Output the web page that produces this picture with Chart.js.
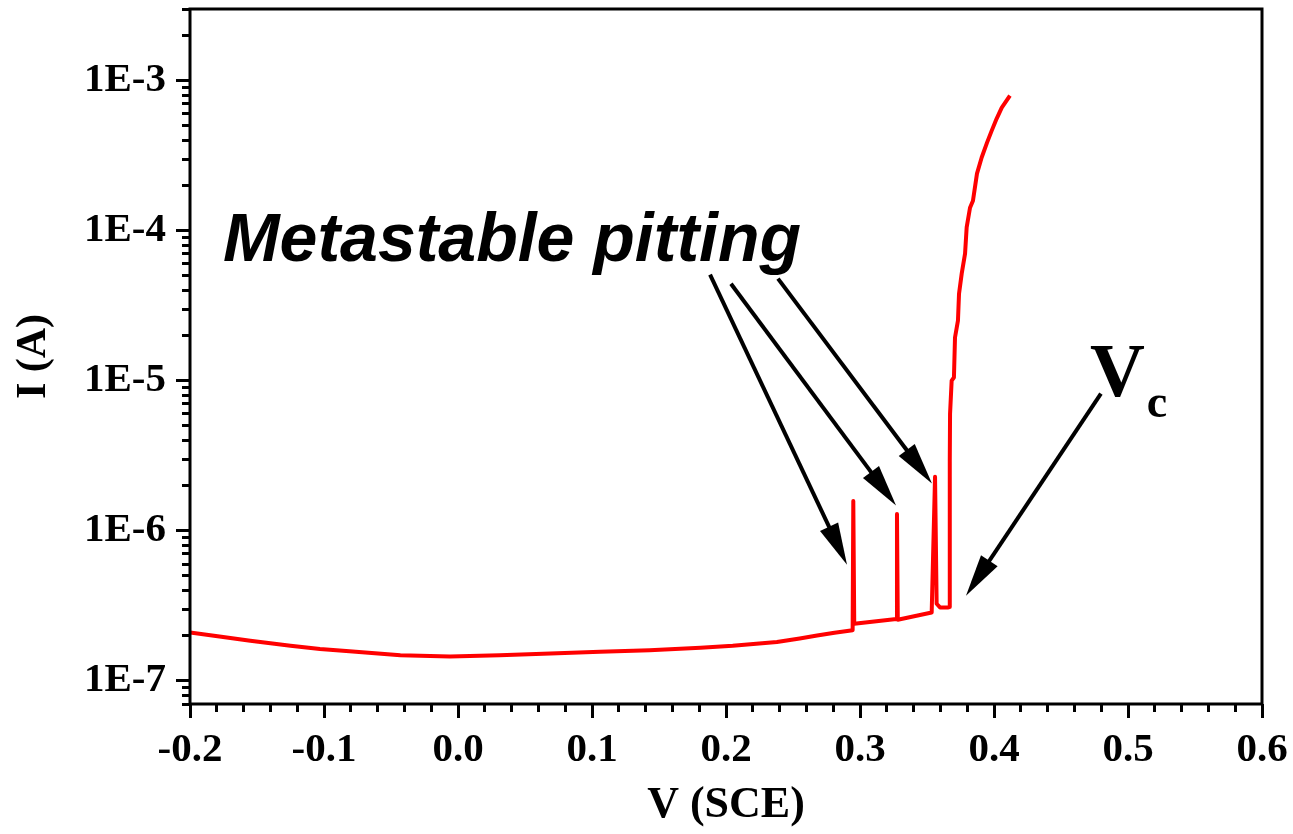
<!DOCTYPE html>
<html>
<head>
<meta charset="utf-8">
<script src="https://cdn.jsdelivr.net/npm/chart.js@4.4.1/dist/chart.umd.min.js"></script>
<style>
  html, body { margin: 0; padding: 0; background: #fff; }
  #wrap { width: 1293px; height: 834px; }
</style>
</head>
<body>
<div id="wrap"><canvas id="chart" width="1293" height="834"></canvas></div>
<script>
// polarisation curve, V vs SCE and current in A
const voltage = [
    -0.200, -0.178, -0.155, -0.125, -0.103, -0.081, -0.043, -0.006, 0.031, 0.069, 0.106,
    0.143, 0.181, 0.205, 0.238, 0.255, 0.268, 0.281,
    0.2945, 0.2950, 0.2957, 0.2990,
    0.3272, 0.3276, 0.3282,
    0.3535, 0.3560, 0.3572, 0.3597, 0.3659,
    0.3668, 0.3670, 0.3672, 0.3684, 0.3701, 0.3709, 0.3731, 0.3739, 0.3759, 0.3784,
    0.3796, 0.3821, 0.3843, 0.3873, 0.3908, 0.3948, 0.3983, 0.4020, 0.4058, 0.4119
];
const current = [
    2.10e-7, 1.97e-7, 1.85e-7, 1.71e-7, 1.63e-7, 1.57e-7, 1.48e-7, 1.45e-7, 1.48e-7, 1.52e-7, 1.56e-7,
    1.60e-7, 1.66e-7, 1.71e-7, 1.81e-7, 1.91e-7, 2.00e-7, 2.09e-7,
    2.17e-7, 1.58e-6, 2.40e-7, 2.42e-7,
    2.58e-7, 1.29e-6, 2.55e-7,
    2.85e-7, 2.29e-6, 3.26e-7, 3.08e-7, 3.08e-7,
    3.10e-7, 2.90e-6, 6.00e-6, 1.00e-5, 1.05e-5, 1.94e-5, 2.51e-5, 3.80e-5, 5.17e-5, 7.03e-5,
    1.05e-4, 1.42e-4, 1.58e-4, 2.40e-4, 3.07e-4, 3.86e-4, 4.64e-4, 5.58e-4, 6.61e-4, 7.94e-4
];

const xTickValues = [-0.2, -0.1, 0.0, 0.1, 0.2, 0.3, 0.4, 0.5, 0.6];
const xTickLabels = ['-0.2', '-0.1', '0.0', '0.1', '0.2', '0.3', '0.4', '0.5', '0.6'];
const yTickValues = [1e-7, 1e-6, 1e-5, 1e-4, 1e-3];
const yTickLabels = ['1E-7', '1E-6', '1E-5', '1E-4', '1E-3'];

const xMin = -0.2, xMax = 0.6;
const yMin = 7e-8, yMax = 3e-3;

// annotation arrows, [V, I] in data units
const arrowTails = [[0.1881, 5.09e-5], [0.2037, 4.43e-5], [0.2388, 4.79e-5], [0.4798, 8.19e-6]];
const arrowTips = [[0.2903, 5.93e-7], [0.3269, 1.47e-6], [0.3537, 2.06e-6], [0.3791, 3.69e-7]];
const pittingLabel = 'Metastable pitting';
const pittingAt = [-0.1754, 6.31e-5];
const vcAt = [0.4716, 7.94e-6];

// minor tick positions
const xMinorTicks = [];
for (let i = 0; i <= 40; i++) {
    xMinorTicks.push(Math.round((xMin + i * 0.02) * 1000) / 1000);
}
const yMinorTicks = [];
for (let e = -8; e <= -3; e++) {
    for (let m = 1; m <= 9; m++) {
        const v = m * Math.pow(10, e);
        if (v >= yMin * 0.999 && v <= yMax * 1.001) yMinorTicks.push(v);
    }
}

const points = voltage.map((v, i) => ({ x: v, y: current[i] }));

const tickFont = { family: 'Liberation Serif', weight: 'bold', size: 41 };

// no extra room for end labels, the plot box is fixed
function noPadding(scale) {
    scale.paddingTop = 0;
    scale.paddingBottom = 0;
    scale.paddingLeft = 0;
    scale.paddingRight = 0;
}

function drawArrow(ctx, x1, y1, x2, y2) {
    const headLen = 42, headHalf = 10;
    const dx = x2 - x1, dy = y2 - y1;
    const len = Math.sqrt(dx * dx + dy * dy);
    const ux = dx / len, uy = dy / len;
    const bx = x2 - ux * headLen, by = y2 - uy * headLen;

    ctx.beginPath();
    ctx.moveTo(x1, y1);
    ctx.lineTo(bx + ux * 4, by + uy * 4);
    ctx.lineWidth = 4;
    ctx.stroke();

    ctx.beginPath();
    ctx.moveTo(x2, y2);
    ctx.lineTo(bx - uy * headHalf, by + ux * headHalf);
    ctx.lineTo(bx + uy * headHalf, by - ux * headHalf);
    ctx.closePath();
    ctx.fill();
}

const annotations = {
    id: 'annotations',
    afterDraw(chart) {
        const { ctx, chartArea: a } = chart;
        const x = chart.scales.x, y = chart.scales.y;
        ctx.save();

        // frame round the plot
        ctx.strokeStyle = '#000';
        ctx.lineWidth = 3;
        ctx.strokeRect(a.left, a.top, a.right - a.left, a.bottom - a.top);

        ctx.fillStyle = '#000';
        arrowTails.forEach((t, i) => {
            drawArrow(ctx,
                x.getPixelForValue(t[0]), y.getPixelForValue(t[1]),
                x.getPixelForValue(arrowTips[i][0]), y.getPixelForValue(arrowTips[i][1]));
        });

        ctx.textBaseline = 'alphabetic';
        ctx.textAlign = 'left';
        ctx.font = 'italic bold 68px "Liberation Sans"';
        ctx.fillText(pittingLabel, x.getPixelForValue(pittingAt[0]), y.getPixelForValue(pittingAt[1]));

        const vx = x.getPixelForValue(vcAt[0]);
        const vy = y.getPixelForValue(vcAt[1]);
        ctx.font = 'bold 76px "Liberation Serif"';
        ctx.fillText('V', vx, vy);
        const vw = ctx.measureText('V').width;
        ctx.font = 'bold 46px "Liberation Serif"';
        ctx.fillText('c', vx + vw + 2, vy + 21);

        ctx.restore();
    }
};

new Chart(document.getElementById('chart'), {
    type: 'scatter',
    data: {
        datasets: [{
            data: points,
            showLine: true,
            borderColor: '#ff0000',
            backgroundColor: '#ff0000',
            borderWidth: 4,
            pointRadius: 0,
            tension: 0,
            borderJoinStyle: 'round',
            xAxisID: 'x',
            yAxisID: 'y'
        }]
    },
    options: {
        responsive: false,
        animation: false,
        layout: { padding: { left: 0, top: 9, right: 31, bottom: 0 } },
        plugins: {
            legend: { display: false },
            tooltip: { enabled: false }
        },
        scales: {
            x: {
                type: 'linear',
                position: 'bottom',
                min: xMin,
                max: xMax,
                bounds: 'data',
                weight: 0,
                border: { display: false },
                grid: { drawOnChartArea: false, drawTicks: true, tickLength: 14, tickWidth: 3, tickColor: '#000' },
                ticks: {
                    autoSkip: false,
                    maxRotation: 0,
                    padding: 8,
                    color: '#000',
                    font: tickFont,
                    callback: (value, index) => xTickLabels[index]
                },
                afterBuildTicks: scale => { scale.ticks = xTickValues.map(v => ({ value: v })); },
                afterFit: scale => { scale.height = 130; noPadding(scale); },
                title: {
                    display: true,
                    text: 'V (SCE)',
                    color: '#000',
                    padding: { top: 0, bottom: 2 },
                    font: { family: 'Liberation Serif', weight: 'bold', size: 44 }
                }
            },
            xMinor: {
                type: 'linear',
                position: 'bottom',
                min: xMin,
                max: xMax,
                bounds: 'data',
                weight: -1,
                border: { display: false },
                grid: { drawOnChartArea: false, drawTicks: true, tickLength: 8, tickWidth: 3, tickColor: '#000' },
                ticks: { display: false, autoSkip: false },
                afterBuildTicks: scale => { scale.ticks = xMinorTicks.map(v => ({ value: v })); },
                afterFit: scale => { scale.height = 0; noPadding(scale); }
            },
            y: {
                type: 'logarithmic',
                position: 'left',
                min: yMin,
                max: yMax,
                bounds: 'data',
                weight: 0,
                border: { display: false },
                grid: { drawOnChartArea: false, drawTicks: true, tickLength: 14, tickWidth: 3, tickColor: '#000' },
                ticks: {
                    autoSkip: false,
                    padding: 10,
                    color: '#000',
                    font: tickFont,
                    callback: (value, index) => yTickLabels[index]
                },
                afterBuildTicks: scale => { scale.ticks = yTickValues.map(v => ({ value: v })); },
                afterFit: scale => { scale.width = 190; noPadding(scale); },
                title: {
                    display: true,
                    text: 'I (A)',
                    color: '#000',
                    padding: { top: 9, bottom: 0 },
                    font: { family: 'Liberation Serif', weight: 'bold', size: 42 }
                }
            },
            yMinor: {
                type: 'logarithmic',
                position: 'left',
                min: yMin,
                max: yMax,
                bounds: 'data',
                weight: -1,
                border: { display: false },
                grid: { drawOnChartArea: false, drawTicks: true, tickLength: 8, tickWidth: 3, tickColor: '#000' },
                ticks: { display: false, autoSkip: false },
                afterBuildTicks: scale => { scale.ticks = yMinorTicks.map(v => ({ value: v })); },
                afterFit: scale => { scale.width = 0; noPadding(scale); }
            }
        }
    },
    plugins: [annotations]
});
</script>
</body>
</html>
